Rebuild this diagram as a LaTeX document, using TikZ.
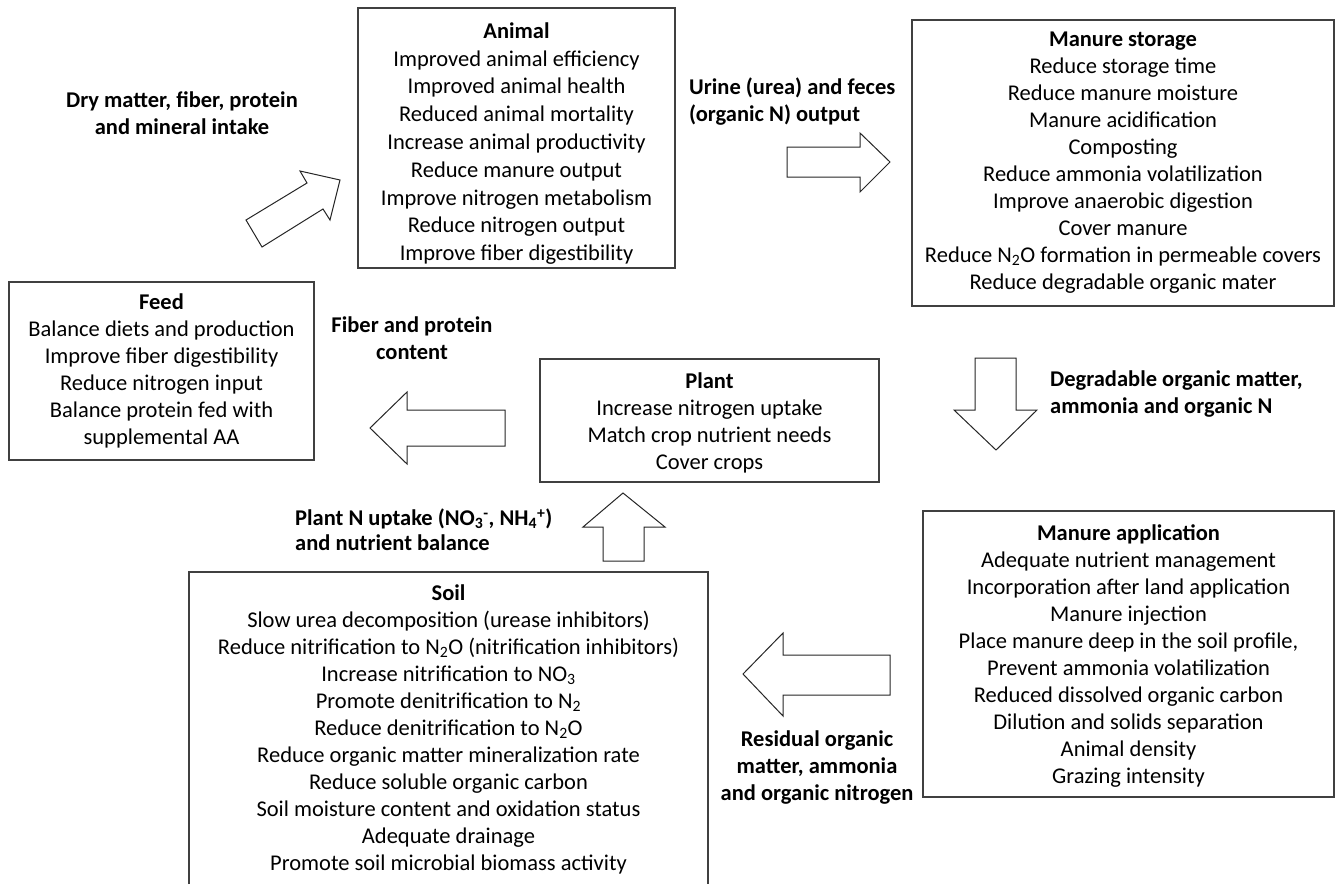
\documentclass[tikz,border=0pt]{standalone}
\usepackage{fontspec}
\setmainfont{Carlito}
\begin{document}
\begin{tikzpicture}[x=1pt,y=-1pt,
  box/.style={draw=black!75, line width=1.2pt, inner sep=0pt, align=center, font=\fontsize{22.5}{27}\selectfont},
  txt/.style={inner sep=0pt, align=center, font=\fontsize{22.5}{27}\selectfont},
  lbl/.style={inner sep=0pt, font=\fontsize{22.5}{27}\selectfont\bfseries},
  barrow/.style={draw=black!85, line width=1pt, fill=white, line join=miter}]
\useasboundingbox (0,0) rectangle (1336,884);

% Feed
\node[box, minimum width=305pt, minimum height=178pt] (feed) at (161.5,371) {\textbf{Feed}\\Balance diets and production\\Improve fiber digestibility\\Reduce nitrogen input\\Balance protein fed with\\supplemental AA};

% Animal
\node[box, minimum width=317pt, minimum height=260pt] (animal) at (516.5,138) {};
\node[txt, font=\fontsize{22.5}{27.8}\selectfont] (animaltext) at (516.5,143.5) {\textbf{Animal}\\Improved animal efficiency\\Improved animal health\\Reduced animal mortality\\Increase animal productivity\\Reduce manure output\\Improve nitrogen metabolism\\Reduce nitrogen output\\Improve fiber digestibility};

% Manure storage
\node[box, minimum width=422pt, minimum height=286pt] (storage) at (1123,163) {\textbf{Manure storage}\\Reduce storage time\\Reduce manure moisture\\Manure acidification\\Composting\\Reduce ammonia volatilization\\Improve anaerobic digestion\\Cover manure\\Reduce N\textsubscript{2}O formation in permeable covers\\Reduce degradable organic mater};

% Plant
\node[box, minimum width=339pt, minimum height=123pt] (plant) at (709.5,420.5) {};
\node[txt] (planttext) at (709.5,423) {\textbf{Plant}\\Increase nitrogen uptake\\Match crop nutrient needs\\Cover crops};

% Manure application
\node[box, minimum width=411pt, minimum height=286pt] (application) at (1128.5,654) {};
\node[txt] (applicationtext) at (1128.5,656) {\textbf{Manure application}\\Adequate nutrient management\\Incorporation after land application\\Manure injection\\Place manure deep in the soil profile,\\Prevent ammonia volatilization\\Reduced dissolved organic carbon\\Dilution and solids separation\\Animal density\\Grazing intensity};

% Soil (box runs off the bottom edge)
\coordinate (sbl) at (189,884);
\coordinate (stl) at (189,572);
\coordinate (str) at (708,572);
\coordinate (sbr) at (708,884);
\draw[draw=black!75, line width=1.2pt] (sbl) -- (stl) -- (str) -- (sbr);
\node[txt] (soil) at (448.5,729) {\textbf{Soil}\\Slow urea decomposition (urease inhibitors)\\Reduce nitrification to N\textsubscript{2}O (nitrification inhibitors)\\Increase nitrification to NO\textsubscript{3}\\Promote denitrification to N\textsubscript{2}\\Reduce denitrification to N\textsubscript{2}O\\Reduce organic matter mineralization rate\\Reduce soluble organic carbon\\Soil moisture content and oxidation status\\Adequate drainage\\Promote soil microbial biomass activity};

% Labels
\node[lbl, align=center] (l1) at (182,113.5) {Dry matter, fiber, protein\\and mineral intake};
\node[lbl, align=left, anchor=west] (l2) at (689,101.5) {Urine (urea) and feces\\(organic N) output};
\node[lbl, align=center] (l3) at (412,338) {Fiber and protein\\content};
\node[lbl, align=left, anchor=west] (l4) at (1050,394) {Degradable organic matter,\\ammonia and organic N};
\node[lbl, align=left, anchor=west, font=\fontsize{22.5}{25}\selectfont\bfseries] (l5) at (295,530) {Plant N uptake (NO\textsubscript{3}\textsuperscript{-}, NH\textsubscript{4}\textsuperscript{+})\\and nutrient balance};
\node[lbl, align=center] (l6) at (817,767) {Residual organic\\matter, ammonia\\and organic nitrogen};

% Block arrows
\draw[barrow] (246,220) -- (307,183) -- (300,171) -- (340,180) -- (330,220) -- (323,209) -- (262,247) -- cycle;
\draw[barrow] (787,147) -- (860,147) -- (860,133) -- (890,162) -- (860,192) -- (860,177) -- (787,177) -- cycle;
\draw[barrow] (975,358) -- (1016,358) -- (1016,410) -- (1037,410) -- (996,450) -- (954,410) -- (975,410) -- cycle;
\draw[barrow] (505,410) -- (407,410) -- (407,392) -- (370,428) -- (407,464) -- (407,446) -- (505,446) -- cycle;
\draw[barrow] (603,561) -- (603,527) -- (583,527) -- (623,493) -- (665,527) -- (644,527) -- (644,561) -- cycle;
\draw[barrow] (890,655) -- (783,655) -- (783,633) -- (743,674) -- (783,716) -- (783,695) -- (890,695) -- cycle;
\end{tikzpicture}
\end{document}
